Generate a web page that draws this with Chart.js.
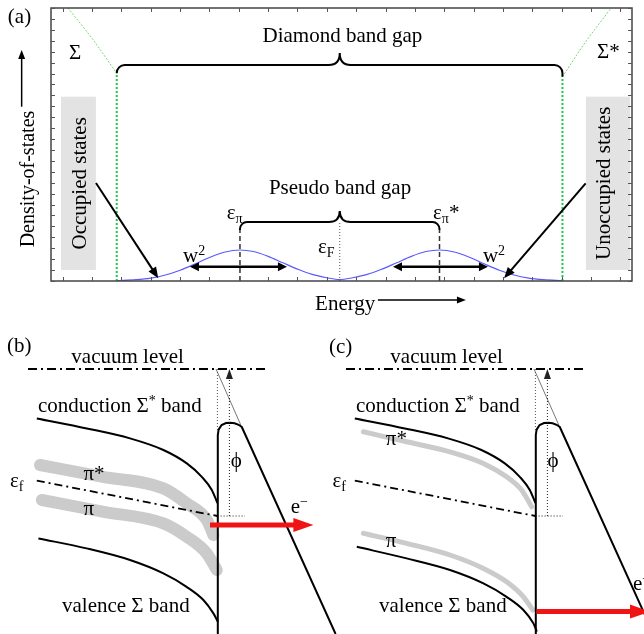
<!DOCTYPE html>
<html>
<head>
<meta charset="utf-8">
<title>DOS and surface band bending</title>
<script src="https://cdn.jsdelivr.net/npm/chart.js"></script>
<style>
  html, body { margin: 0; padding: 0; background: #fff; }
  body { position: relative; width: 644px; height: 634px; overflow: hidden; }
  canvas { position: absolute; }
</style>
</head>
<body>
<canvas id="dos" width="644" height="322" style="left:0;top:0"></canvas>
<canvas id="bandB" width="340" height="304" style="left:0;top:330px"></canvas>
<canvas id="bandC" width="326" height="304" style="left:318px;top:330px"></canvas>
<script>
const SERIF = "'Liberation Serif', 'DejaVu Serif', serif";

// ---- (a) density of states (energy and DOS in axis tick units) ----
const dosEnergy = [1.84, 2.5, 3.0, 3.5, 4.0, 4.5, 5.0, 5.5, 6.04, 6.5, 7.0, 7.5, 8.0, 8.5, 9.0, 9.44,
                   9.88, 10.38, 10.88, 11.38, 11.88, 12.38, 12.84, 13.38, 13.88, 14.38, 14.88, 15.38, 15.88, 16.38, 17.03];
const piDos = [0.02, 0.12, 0.27, 0.55, 0.99, 1.55, 2.15, 2.63, 2.84, 2.70, 2.26, 1.67, 1.09, 0.60, 0.30, 0.13,
               0.30, 0.60, 1.09, 1.67, 2.26, 2.70, 2.84, 2.63, 2.15, 1.55, 0.99, 0.55, 0.27, 0.12, 0.02];
const bandEdgeEnergy = [1.84, 17.03];
const bandEdgeDos = [19.02, 18.71];
const sigmaEnergy = [0.18, 1.04, 1.84];
const sigmaDos = [25, 22.07, 19.02];
const sigmaStarEnergy = [17.03, 17.82, 18.69];
const sigmaStarDos = [18.71, 21.9, 25];
const peakEnergy = [6.04, 12.84];
const fermiEnergy = 9.44;
const pseudoEnd = 4.67, pseudoBar = 5.4, pseudoTip = 6.41;
const diamondBar = 19.78, diamondTip = 20.88;

// ---- (b), (c) band bending near the surface (depth, energy below vacuum) ----
const vacuumX = [1.4, 13.4];
const vacuumE = [0, 0];
const condX = [1.84, 4.34, 6.5, 8.17, 9.34, 10.09, 10.59, 10.87];
const condE = [-2.47, -2.97, -3.47, -4.05, -4.72, -5.39, -6.05, -6.7];
const barrierX = [10.89, 10.89, 10.93, 11.08, 11.3, 11.5, 11.73, 11.93, 12.09, 16.78];
const barrierE = [-13.25, -3.3, -3.03, -2.8, -2.7, -2.69, -2.71, -2.79, -2.9, -13.25];
const tangentX = [10.8, 12.04];
const tangentE = [0, -2.8];
const fermiX = [1.84, 10.87];
const fermiE = [-5.58, -7.35];
const surfaceX = 10.87, workFnX = 11.47;

const valenceBX = [1.92, 4.33, 6.5, 8.17, 9.33, 10.17, 10.67, 10.9];
const valenceBE = [-8.47, -8.97, -9.55, -10.22, -10.89, -11.55, -12.22, -12.65];
const piStarBX = [2.0, 5.08, 8.17, 9.34, 10.34, 10.67];
const piStarBE = [-4.8, -5.38, -5.97, -6.72, -7.55, -8.3];
const piBX = [2.09, 5.13, 8.17, 9.34, 10.34, 10.84];
const piBE = [-6.55, -7.13, -7.72, -8.39, -9.22, -10.05];

const valenceCX = [1.94, 4.43, 6.6, 8.27, 9.43, 10.27, 10.77, 10.94];
const valenceCE = [-8.89, -9.47, -10.05, -10.72, -11.39, -12.05, -12.72, -13.13];
const piStarCX = [2.27, 4.43, 6.6, 8.27, 9.43, 10.18, 10.68];
const piStarCE = [-3.14, -3.64, -4.14, -4.72, -5.39, -6.05, -6.89];
const piCX = [2.27, 4.43, 6.6, 8.27, 9.43, 10.27, 10.74];
const piCE = [-8.22, -8.72, -9.3, -9.97, -10.64, -11.39, -12.05];

// ---- helpers ----
const pts = (xs, ys) => xs.map((x, i) => ({ x, y: ys[i] }));
function trace(xs, ys, style) {
  return Object.assign({ data: pts(xs, ys), showLine: true, pointRadius: 0, borderColor: '#000',
                         borderWidth: 2, fill: false, tension: 0 }, style);
}
function baseOptions(xmin, xmax, ymin, ymax, padding) {
  return {
    responsive: false, animation: false, events: [], devicePixelRatio: 1,
    layout: { padding },
    plugins: { legend: { display: false }, tooltip: { enabled: false } },
    scales: {
      x: { type: 'linear', min: xmin, max: xmax, display: false },
      y: { type: 'linear', min: ymin, max: ymax, display: false }
    }
  };
}
// text with sub/superscript pieces: parts = [[text, 'sub'|'sup'|undefined], ...]
function rich(ctx, parts, x, y, align, size) {
  const fs = size || 21, ss = 14;
  let w = 0;
  const widths = parts.map(([t, k]) => {
    ctx.font = (k ? ss : fs) + 'px ' + SERIF;
    const m = ctx.measureText(t).width; w += m; return m;
  });
  let cx = align === 'center' ? x - w / 2 : x;
  ctx.textAlign = 'left';
  ctx.textBaseline = 'alphabetic';
  ctx.fillStyle = '#000';
  parts.forEach(([t, k], i) => {
    ctx.font = (k ? ss : fs) + 'px ' + SERIF;
    const dy = k === 'sub' ? 4 : k === 'sup' ? -7 : 0;
    ctx.fillText(t, cx, y + dy);
    cx += widths[i];
  });
}
function head(ctx, x, y, a, len, half) {
  const c = Math.cos(a), s = Math.sin(a);
  ctx.beginPath();
  ctx.moveTo(x, y);
  ctx.lineTo(x - len * c + half * s, y - len * s - half * c);
  ctx.lineTo(x - len * c - half * s, y - len * s + half * c);
  ctx.closePath();
  ctx.fill();
}
function arrow(ctx, x0, y0, x1, y1, o) {
  const a = Math.atan2(y1 - y0, x1 - x0), c = Math.cos(a), s = Math.sin(a);
  ctx.save();
  ctx.strokeStyle = ctx.fillStyle = o.color || '#000';
  ctx.lineWidth = o.width;
  ctx.setLineDash(o.dash || []);
  const back = o.head * 0.8;
  ctx.beginPath();
  ctx.moveTo(o.both ? x0 + back * c : x0, o.both ? y0 + back * s : y0);
  ctx.lineTo(x1 - back * c, y1 - back * s);
  ctx.stroke();
  ctx.setLineDash([]);
  head(ctx, x1, y1, a, o.head, o.half);
  if (o.both) head(ctx, x0, y0, a + Math.PI, o.head, o.half);
  ctx.restore();
}
function brace(ctx, x0, y0, x1, y1, yBar, xm, yTip, r) {
  ctx.beginPath();
  ctx.moveTo(x0, y0);
  ctx.arcTo(x0, yBar, x0 + r, yBar, r);
  ctx.lineTo(xm - 11, yBar);
  ctx.quadraticCurveTo(xm, yBar, xm, yTip);
  ctx.quadraticCurveTo(xm, yBar, xm + 11, yBar);
  ctx.arcTo(x1, yBar, x1, y1, r);
  ctx.lineTo(x1, y1);
  ctx.stroke();
}
function rotated(ctx, str, x, y, size) {
  ctx.save();
  ctx.translate(x, y);
  ctx.rotate(-Math.PI / 2);
  ctx.font = size + 'px ' + SERIF;
  ctx.fillStyle = '#000';
  ctx.textAlign = 'center';
  ctx.textBaseline = 'alphabetic';
  ctx.fillText(str, 0, 0);
  ctx.restore();
}

// ---- (a) annotations ----
const stateBoxes = [
  { x0: -0.06, x1: 1.13, y0: 1.01, y1: 16.88, text: 'Occupied states', base: 0.78 },
  { x0: 17.83, x1: 19.33, y0: 1.01, y1: 16.88, text: 'Unoccupied states', base: 18.64 }
];
const dosLabels = [
  { parts: [['(a)']], x: -1.87, y: 23.63 },
  { parts: [['Diamond band gap']], x: 9.53, y: 21.86, align: 'center' },
  { parts: [['Pseudo band gap']], x: 9.45, y: 8.0, align: 'center' },
  { parts: [['Σ']], x: 0.42, y: 20.3, align: 'center' },
  { parts: [['Σ*']], x: 18.21, y: 20.39 },
  { parts: [['ε'], ['π', 'sub']], x: 5.59, y: 5.65 },
  { parts: [['ε'], ['π', 'sub'], ['*']], x: 12.62, y: 5.68 },
  { parts: [['ε'], ['F', 'sub']], x: 8.70, y: 2.56 },
  { parts: [['w'], ['2', 'sup']], x: 4.10, y: 1.74 },
  { parts: [['w'], ['2', 'sup']], x: 14.32, y: 1.74 },
  { parts: [['Energy']], x: 8.6, y: -2.63 }
];

const dosDecor = {
  id: 'dosDecor',
  beforeDatasetsDraw(chart) {
    const { ctx } = chart;
    const X = v => chart.scales.x.getPixelForValue(v), Y = v => chart.scales.y.getPixelForValue(v);
    ctx.save();
    ctx.fillStyle = '#e3e3e3';
    stateBoxes.forEach(b => ctx.fillRect(X(b.x0), Y(b.y1), X(b.x1) - X(b.x0), Y(b.y0) - Y(b.y1)));
    ctx.restore();
  },
  afterDatasetsDraw(chart) {
    const { ctx, chartArea: a } = chart;
    const sx = chart.scales.x, sy = chart.scales.y;
    const X = v => sx.getPixelForValue(v), Y = v => sy.getPixelForValue(v);
    ctx.save();
    // frame with inward ticks on all four sides
    ctx.strokeStyle = '#444';
    ctx.lineWidth = 1.5;
    ctx.strokeRect(a.left, a.top, a.right - a.left, a.bottom - a.top);
    ctx.strokeStyle = '#555';
    ctx.lineWidth = 1;
    ctx.beginPath();
    for (let v = Math.ceil(sx.min); v <= sx.max; v++) {
      const p = Math.round(X(v)) + 0.5;
      ctx.moveTo(p, a.bottom); ctx.lineTo(p, a.bottom - 4);
      ctx.moveTo(p, a.top); ctx.lineTo(p, a.top + 4);
    }
    for (let v = Math.ceil(sy.min); v <= sy.max; v++) {
      const p = Math.round(Y(v)) + 0.5;
      ctx.moveTo(a.left, p); ctx.lineTo(a.left + 4, p);
      ctx.moveTo(a.right, p); ctx.lineTo(a.right - 4, p);
    }
    ctx.stroke();

    // gap braces
    ctx.strokeStyle = '#000';
    ctx.lineWidth = 2;
    brace(ctx, X(bandEdgeEnergy[0]), Y(bandEdgeDos[0]), X(bandEdgeEnergy[1]), Y(bandEdgeDos[1]),
          Y(diamondBar), X(fermiEnergy), Y(diamondTip), 8);
    brace(ctx, X(peakEnergy[0]), Y(pseudoEnd), X(peakEnergy[1]), Y(pseudoEnd),
          Y(pseudoBar), X(fermiEnergy), Y(pseudoTip), 7);

    // arrows
    arrow(ctx, X(1.133), Y(8.97), X(3.256), Y(0.25), { width: 2, head: 11, half: 4.5 });
    arrow(ctx, X(17.82), Y(8.94), X(15.04), Y(0.25), { width: 2, head: 11, half: 4.5 });
    arrow(ctx, X(4.335), Y(1.31), X(7.64), Y(1.31), { width: 2.5, head: 9, half: 4.5, both: true });
    arrow(ctx, X(11.255), Y(1.31), X(14.49), Y(1.31), { width: 2.5, head: 9, half: 4.5, both: true });
    arrow(ctx, X(-1.40), Y(15.96), X(-1.40), Y(21.15), { width: 1.5, head: 9, half: 3.5 });
    arrow(ctx, X(10.74), Y(-1.74), X(13.74), Y(-1.74), { width: 1.5, head: 9, half: 3.5 });

    // text
    dosLabels.forEach(l => rich(ctx, l.parts, X(l.x), Y(l.y), l.align));
    stateBoxes.forEach(b => rotated(ctx, b.text, X(b.base), Y((b.y0 + b.y1) / 2), 21));
    rotated(ctx, 'Density-of-states', X(-0.98), Y(9.34), 20);
    ctx.restore();
  }
};

new Chart(document.getElementById('dos'), {
  type: 'scatter',
  data: {
    datasets: [
      trace(dosEnergy, piDos, { borderColor: '#5a5aff', borderWidth: 1.2, cubicInterpolationMode: 'monotone' }),
      trace([bandEdgeEnergy[0], bandEdgeEnergy[0]], [0, bandEdgeDos[0]], { borderColor: '#1ecb4c', borderWidth: 2, borderDash: [2, 2] }),
      trace([bandEdgeEnergy[1], bandEdgeEnergy[1]], [0, bandEdgeDos[1]], { borderColor: '#1ecb4c', borderWidth: 2, borderDash: [2, 2] }),
      trace(sigmaEnergy, sigmaDos, { borderColor: '#7ad87a', borderWidth: 1, borderDash: [2, 1.5], tension: 0.3 }),
      trace(sigmaStarEnergy, sigmaStarDos, { borderColor: '#7ad87a', borderWidth: 1, borderDash: [2, 1.5], tension: 0.3 }),
      trace([peakEnergy[0], peakEnergy[0]], [0, pseudoEnd], { borderColor: '#333', borderWidth: 1.5, borderDash: [5, 3] }),
      trace([peakEnergy[1], peakEnergy[1]], [0, pseudoEnd], { borderColor: '#333', borderWidth: 1.5, borderDash: [5, 3] }),
      trace([fermiEnergy, fermiEnergy], [0, pseudoBar], { borderColor: '#555', borderWidth: 1, borderDash: [1, 2] })
    ]
  },
  options: baseOptions(-0.4, 19.4, 0, 25, { left: 51, top: 8, right: 12, bottom: 41 }),
  plugins: [dosDecor]
});

// ---- (b), (c) ----
function bandDecor(labels, emission) {
  return {
    id: 'bandDecor',
    afterDatasetsDraw(chart) {
      const { ctx } = chart;
      const X = v => chart.scales.x.getPixelForValue(v), Y = v => chart.scales.y.getPixelForValue(v);
      ctx.save();
      // work function: Fermi level at the surface up to the vacuum level
      arrow(ctx, X(workFnX), Y(fermiE[1]), X(workFnX), Y(0), { width: 1, head: 10, half: 3.5, dash: [1, 2], color: '#222' });
      // emitted electron
      arrow(ctx, X(emission.x0), Y(emission.e), X(emission.x1), Y(emission.e), { width: 5, head: 20, half: 7, color: '#f01414' });
      labels.forEach(l => rich(ctx, l.parts, X(l.x), Y(l.y), l.align));
      ctx.restore();
    }
  };
}

function sharedBands(valX, valE) {
  return [
    trace(vacuumX, vacuumE, { borderWidth: 2, borderDash: [9, 4, 2, 4], order: 1 }),
    trace(condX, condE, { cubicInterpolationMode: 'monotone', order: 1 }),
    trace(valX, valE, { cubicInterpolationMode: 'monotone', order: 1 }),
    trace(barrierX, barrierE, { order: 1 }),
    trace(fermiX, fermiE, { borderWidth: 1.8, borderDash: [8, 4, 2, 4], order: 1 }),
    trace(tangentX, tangentE, { borderColor: '#555', borderWidth: 0.8, order: 2 }),
    trace([surfaceX, surfaceX], [0, -3.1], { borderColor: '#555', borderWidth: 1, borderDash: [1, 2], order: 2 }),
    trace([surfaceX, 12.25], [fermiE[1], fermiE[1]], { borderColor: '#9a9a9a', borderWidth: 1.5, borderDash: [1.5, 1.5], order: 2 })
  ];
}

const labelsB = [
  { parts: [['(b)']], x: 0.35, y: 0.85 },
  { parts: [['vacuum level']], x: 6.38, y: 0.3, align: 'center' },
  { parts: [['conduction Σ'], ['*', 'sup'], [' band']], x: 1.9, y: -2.15 },
  { parts: [['π*']], x: 4.17, y: -5.55 },
  { parts: [['π']], x: 4.17, y: -7.3 },
  { parts: [['ε'], ['f', 'sub']], x: 0.5, y: -5.88 },
  { parts: [['valence Σ band']], x: 3.1, y: -12.15 },
  { parts: [['ϕ']], x: 11.81, y: -4.9, align: 'center' },
  { parts: [['e'], ['−', 'sup']], x: 14.54, y: -7.22 }
];
const labelsC = [
  { parts: [['(c)']], x: 0.55, y: 0.8 },
  { parts: [['vacuum level']], x: 6.43, y: 0.3, align: 'center' },
  { parts: [['conduction Σ'], ['*', 'sup'], [' band']], x: 1.9, y: -2.15 },
  { parts: [['π*']], x: 3.39, y: -3.8 },
  { parts: [['ε'], ['f', 'sub']], x: 0.72, y: -5.9 },
  { parts: [['π']], x: 3.39, y: -8.89 },
  { parts: [['valence Σ band']], x: 3.05, y: -12.15 },
  { parts: [['ϕ']], x: 11.75, y: -4.88, align: 'center' },
  { parts: [['e'], ['−', 'sup']], x: 15.75, y: -11.05 }
];

new Chart(document.getElementById('bandB'), {
  type: 'scatter',
  data: {
    datasets: sharedBands(valenceBX, valenceBE).concat([
      trace(piStarBX, piStarBE, { borderColor: '#cbcbcb', borderWidth: 12, borderCapStyle: 'round', borderJoinStyle: 'round', cubicInterpolationMode: 'monotone', order: 5 }),
      trace(piBX, piBE, { borderColor: '#cbcbcb', borderWidth: 12, borderCapStyle: 'round', borderJoinStyle: 'round', cubicInterpolationMode: 'monotone', order: 5 })
    ])
  },
  options: baseOptions(0, 17, -13.25, 1.95, 0),
  plugins: [bandDecor(labelsB, { x0: 10.5, x1: 15.67, e: -7.8 })]
});

new Chart(document.getElementById('bandC'), {
  type: 'scatter',
  data: {
    datasets: sharedBands(valenceCX, valenceCE).concat([
      trace(piStarCX, piStarCE, { borderColor: '#cbcbcb', borderWidth: 5, borderCapStyle: 'round', cubicInterpolationMode: 'monotone', order: 5 }),
      trace(piCX, piCE, { borderColor: '#cbcbcb', borderWidth: 5, borderCapStyle: 'round', cubicInterpolationMode: 'monotone', order: 5 })
    ])
  },
  options: baseOptions(0, 16.3, -13.25, 1.95, 0),
  plugins: [bandDecor(labelsC, { x0: 10.93, x1: 16.6, e: -12.13 })]
});
</script>
</body>
</html>
